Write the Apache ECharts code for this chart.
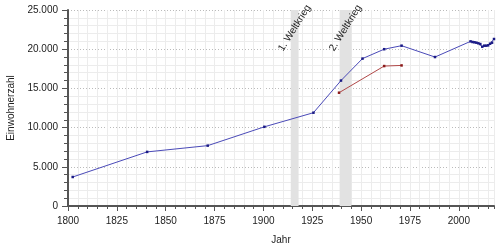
<!DOCTYPE html>
<html>
<head>
<meta charset="utf-8">
<script src="https://cdn.jsdelivr.net/npm/echarts@6/dist/echarts.min.js"></script>
<style>
html,body{margin:0;padding:0;background:#fff;}
#c{width:500px;height:250px;}
</style>
</head>
<body>
<div id="c"></div>
<script>
// Population (Einwohnerzahl), main series
const blueYears = [1802.4, 1840.5, 1871.5, 1900.5, 1925.6, 1939.7, 1950.7, 1961.8, 1970.7, 1987.8,
  2006, 2007, 2008, 2009, 2010, 2011, 2012, 2013, 2014, 2015, 2016, 2017, 2018];
const blueValues = [3700, 6900, 7700, 10100, 11900, 16000, 18800, 20000, 20450, 19000,
  21000, 20920, 20880, 20830, 20750, 20660, 20320, 20450, 20450, 20490, 20700, 20830, 21300];
// Secondary series (red)
const redYears = [1938.7, 1961.8, 1970.7];
const redValues = [14450, 17850, 17930];
// War periods
const warStart = [1914, 1939];
const warEnd = [1918, 1945];
const warLabels = ['1. Weltkrieg', '2. Weltkrieg'];
const warLabelValue = 22700;
// Axis ticks
const xMajorTicks = [1800, 1825, 1850, 1875, 1900, 1925, 1950, 1975, 2000];
const yTicks = [0, 5000, 10000, 15000, 20000, 25000];

const FONT = '"Liberation Sans", Arial, sans-serif';
const fmtDe = v => String(v).replace(/\B(?=(\d{3})+(?!\d))/g, '.');
const pairs = (xs, ys) => xs.map((x, i) => [x, ys[i]]);

const chart = echarts.init(document.getElementById('c'), null, {renderer: 'canvas'});
chart.setOption({
  animation: false,
  backgroundColor: '#ffffff',
  grid: {left: 68, right: 6, top: 10, bottom: 44, containLabel: false, outerBoundsMode: 'none'},
  xAxis: [{
    type: 'value', min: 1800, max: 2018, interval: 25,
    name: 'Jahr', nameLocation: 'middle', nameGap: 29,
    nameTextStyle: {fontFamily: FONT, fontSize: 10, color: '#222'},
    axisLine: {show: true, onZero: false, lineStyle: {color: '#555', width: 2}},
    axisTick: {show: true, length: 5, customValues: xMajorTicks, lineStyle: {color: '#555'}},
    axisLabel: {customValues: xMajorTicks, margin: 10, fontFamily: FONT, fontSize: 10, color: '#222',
      formatter: v => String(v)},
    splitLine: {show: true, lineStyle: {color: '#bbb', type: [1, 2], width: 1}}
  }, {
    type: 'value', min: 1800, max: 2018, interval: 5, position: 'bottom',
    axisLine: {show: false},
    axisTick: {show: true, length: 3, lineStyle: {color: '#555'}},
    axisLabel: {show: false},
    splitLine: {show: true, lineStyle: {color: '#ececec', width: 1}}
  }],
  yAxis: {
    type: 'value', min: 0, max: 25000, interval: 5000,
    name: 'Einwohnerzahl', nameLocation: 'middle', nameGap: 52, nameRotate: 90,
    nameTextStyle: {fontFamily: FONT, fontSize: 10, color: '#222'},
    axisLine: {show: true, lineStyle: {color: '#555', width: 2}},
    axisTick: {show: true, length: 6, lineStyle: {color: '#555'}},
    minorTick: {show: true, splitNumber: 5, length: 4, lineStyle: {color: '#555'}},
    axisLabel: {margin: 10, fontFamily: FONT, fontSize: 10, color: '#222', formatter: fmtDe},
    splitLine: {show: true, lineStyle: {color: '#bbb', type: [1, 2], width: 1}},
    minorSplitLine: {show: true, lineStyle: {color: '#ececec', width: 1}}
  },
  series: [{
    name: 'Kriege', type: 'line', data: [], xAxisIndex: 0,
    markArea: {
      silent: true,
      itemStyle: {color: '#e2e2e2'},
      data: warStart.map((s, i) => [{xAxis: s, yAxis: 0}, {xAxis: warEnd[i], yAxis: 25000}])
    },
    markPoint: {
      silent: true, symbol: 'circle', symbolSize: 0,
      label: {show: true, position: 'inside', rotate: 58, fontFamily: FONT, fontSize: 10, color: '#222',
        formatter: p => p.name},
      data: warLabels.map((t, i) => ({name: t, coord: [(warStart[i] + warEnd[i]) / 2, warLabelValue]}))
    }
  }, {
    name: 'Einwohner', type: 'line', xAxisIndex: 0,
    data: pairs(blueYears, blueValues),
    symbol: 'rect', symbolSize: 2.5, showSymbol: true,
    lineStyle: {color: '#4a4ab8', width: 1},
    itemStyle: {color: '#1a1a85'}
  }, {
    name: 'Rot', type: 'line', xAxisIndex: 0,
    data: pairs(redYears, redValues),
    symbol: 'rect', symbolSize: 2.5, showSymbol: true,
    lineStyle: {color: '#b04848', width: 1},
    itemStyle: {color: '#8b1a1a'}
  }]
});
</script>
</body>
</html>
